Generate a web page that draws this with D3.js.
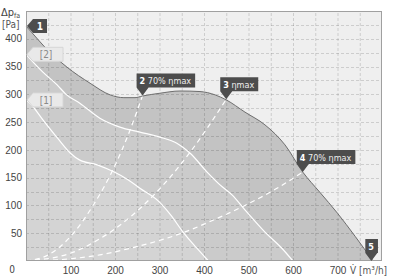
<!DOCTYPE html>
<html>
<head>
<meta charset="utf-8">
<script src="https://cdn.jsdelivr.net/npm/d3@7"></script>
<style>
  body { margin: 0; background: #fff; }
  svg { display: block; font-family: "Liberation Sans Narrow", "DejaVu Sans Condensed", "Liberation Sans", sans-serif; }
</style>
</head>
<body>
<script>
'use strict'

var width = 395
var height = 280

// characteristic curves, [V m3/h, dp Pa]
var curveMax = [[0,423],[20,405],[40,387],[92,349],[144,320],[189,299],[220,294],[245,294],[262,297],[301,302],[346,306],[391,305],[425,299],[450,290],[492,268],[537,245],[582,209],[622,160],[660,124],[700,86],[740,44],[780,0]]
var curve2 = [[0,372],[38,340],[70,317],[90,300],[121,284],[166,257],[211,241],[256,232],[301,223],[339,212],[369,194],[407,160],[436,137],[463,119],[492,92],[537,52],[575,23],[600,0]]
var curve1 = [[0,290],[10,283],[38,254],[70,222],[100,194],[120,182],[160,173],[196,161],[230,146],[256,131],[300,106],[325,83],[353,52],[384,23],[410,0]]

// system curves through the marked points
var sys2 = [[0,0],[50,11],[100,44],[150,99],[200,172],[234,236],[262,298]]
var sys3 = [[0,0],[100,14],[166,40],[234,79],[279,112],[369,196],[450,291]]
var sys4 = [[0,0],[100,4],[166,11],[240,24],[353,51],[425,75],[492,100],[560,129],[622,160]]

var markerIds = ["2", "3", "4", "5"]
var markerText = [" 70% ηmax", " ηmax", " 70% ηmax", ""]
var markerV = [262, 450, 622, 776]
var markerP = [298, 291, 160, 0]

var xTicks = [100, 200, 300, 400, 500, 600, 700]
var yTicks = [50, 100, 150, 200, 250, 300, 350, 400]

var x = d3.scaleLinear().domain([0, 800]).range([26, 382])
var y = d3.scaleLinear().domain([0, 450]).range([261, 11])

var svg = d3.select("body").append("svg")
  .attr("width", width)
  .attr("height", height)

svg.append("rect")
  .attr("x", x(0)).attr("y", y(450))
  .attr("width", x(800) - x(0)).attr("height", y(0) - y(450))
  .attr("fill", "#efefef")

var area = d3.area()
  .x(d => x(d[0])).y0(y(0)).y1(d => y(d[1]))
  .curve(d3.curveMonotoneX)
var line = d3.line()
  .x(d => x(d[0])).y(d => y(d[1]))
  .curve(d3.curveMonotoneX)

svg.append("path").attr("d", area(curveMax)).attr("fill", "#c3c3c3")
svg.append("path").attr("d", area(curve2)).attr("fill", "#cbcbcb")
svg.append("path").attr("d", area(curve1)).attr("fill", "#d4d4d4")

// grid
var grid = svg.append("g")
  .attr("stroke", "rgba(0,0,0,0.14)")
  .attr("stroke-dasharray", "3,2")
grid.selectAll(".gx")
  .data(d3.range(50, 800, 50))
  .enter().append("line")
  .attr("x1", d => x(d) + 0.5).attr("x2", d => x(d) + 0.5)
  .attr("y1", y(0)).attr("y2", y(450))
grid.selectAll(".gy")
  .data(d3.range(25, 450, 25))
  .enter().append("line")
  .attr("y1", d => Math.round(y(d)) + 0.5).attr("y2", d => Math.round(y(d)) + 0.5)
  .attr("x1", x(0)).attr("x2", x(800))

// system curves
svg.selectAll(".sys")
  .data([sys2, sys3, sys4])
  .enter().append("path")
  .attr("d", line)
  .attr("fill", "none")
  .attr("stroke", "#fff")
  .attr("stroke-width", 1.2)
  .attr("stroke-dasharray", "5,4")

svg.selectAll(".fan")
  .data([curve1, curve2])
  .enter().append("path")
  .attr("d", line)
  .attr("fill", "none")
  .attr("stroke", "#fff")
  .attr("stroke-width", 1.2)

svg.append("path")
  .attr("d", line(curveMax))
  .attr("fill", "none")
  .attr("stroke", "#6e6e6e")
  .attr("stroke-width", 1)

// frame
svg.append("rect")
  .attr("x", x(0) + 0.5).attr("y", y(450) + 0.5)
  .attr("width", x(800) - x(0) - 1).attr("height", y(0) - y(450) - 1)
  .attr("fill", "none")
  .attr("stroke", "#a0a0a0")

// axes
var yAxis = svg.append("g")
  .attr("transform", "translate(" + (x(0) - 4) + ",0)")
  .call(d3.axisLeft(y).tickValues(yTicks).tickSize(0).tickPadding(0))
yAxis.select(".domain").remove()
yAxis.selectAll("text").attr("font-size", 10).attr("fill", "#444").attr("font-family", null)

var xAxis = svg.append("g")
  .attr("transform", "translate(0," + y(0) + ")")
  .call(d3.axisBottom(x).tickValues(xTicks).tickSize(0).tickPadding(6))
xAxis.select(".domain").remove()
xAxis.selectAll("text").attr("font-size", 10).attr("fill", "#444").attr("font-family", null)

svg.append("text").attr("x", 12).attr("y", 273).attr("text-anchor", "middle")
  .attr("font-size", 10).attr("fill", "#444").text("0")
svg.append("text").attr("x", 350).attr("y", 274)
  .attr("font-size", 10).attr("fill", "#555").text("V̇ [m³/h]")

var yt = svg.append("text").attr("x", 1).attr("y", 16).attr("font-size", 11).attr("fill", "#444")
yt.append("tspan").text("Δp")
yt.append("tspan").attr("font-size", 7).attr("dy", 2).text("fa")
svg.append("text").attr("x", 2).attr("y", 28).attr("font-size", 10).attr("fill", "#555").text("[Pa]")

// start-point flags on the left
var flags = svg.append("g")
function leftFlag(p, label, dark) {
  var ty = y(p)
  var g = flags.append("g")
  var w = dark ? 21 : 37
  g.append("path")
    .attr("d", "M" + (x(0) + 1) + "," + ty + " L" + (x(0) + 7) + "," + (ty - 7) + " H" + (x(0) + w) +
      " V" + (ty + 7) + " H" + (x(0) + 7) + " Z")
    .attr("fill", dark ? "#4d4d4d" : "#e9e9e9")
    .attr("stroke", dark ? "none" : "#d6d6d6")
  g.append("text")
    .attr("x", x(0) + (dark ? 14 : 20)).attr("y", ty + 4)
    .attr("text-anchor", "middle")
    .attr("font-size", 10)
    .attr("font-weight", dark ? "bold" : "normal")
    .attr("fill", dark ? "#fff" : "#8a8a8a")
    .text(label)
}
leftFlag(curve2[0][1], "[2]", false)
leftFlag(curve1[0][1], "[1]", false)
leftFlag(curveMax[0][1], "1", true)

// operating point markers
var marks = svg.selectAll(".mark")
  .data(markerIds)
  .enter().append("g")
  .attr("transform", (d, i) => "translate(" + x(markerV[i]) + "," + y(markerP[i]) + ")")
marks.each(function(d, i) {
  var g = d3.select(this)
  var t = g.append("text").attr("x", -3).attr("y", -11.5).attr("font-size", 9).attr("fill", "#fff")
  t.append("tspan").attr("font-weight", "bold").text(d)
  t.append("tspan").attr("fill", "#eee").text(markerText[i])
  var bw = t.node().getComputedTextLength() + 7
  g.insert("path", "text")
    .attr("d", "M-6,-22 H" + (bw - 6) + " V-8 H6 L0,0 L-6,-8 Z")
    .attr("fill", "#4d4d4d")
})
</script>
</body>
</html>
